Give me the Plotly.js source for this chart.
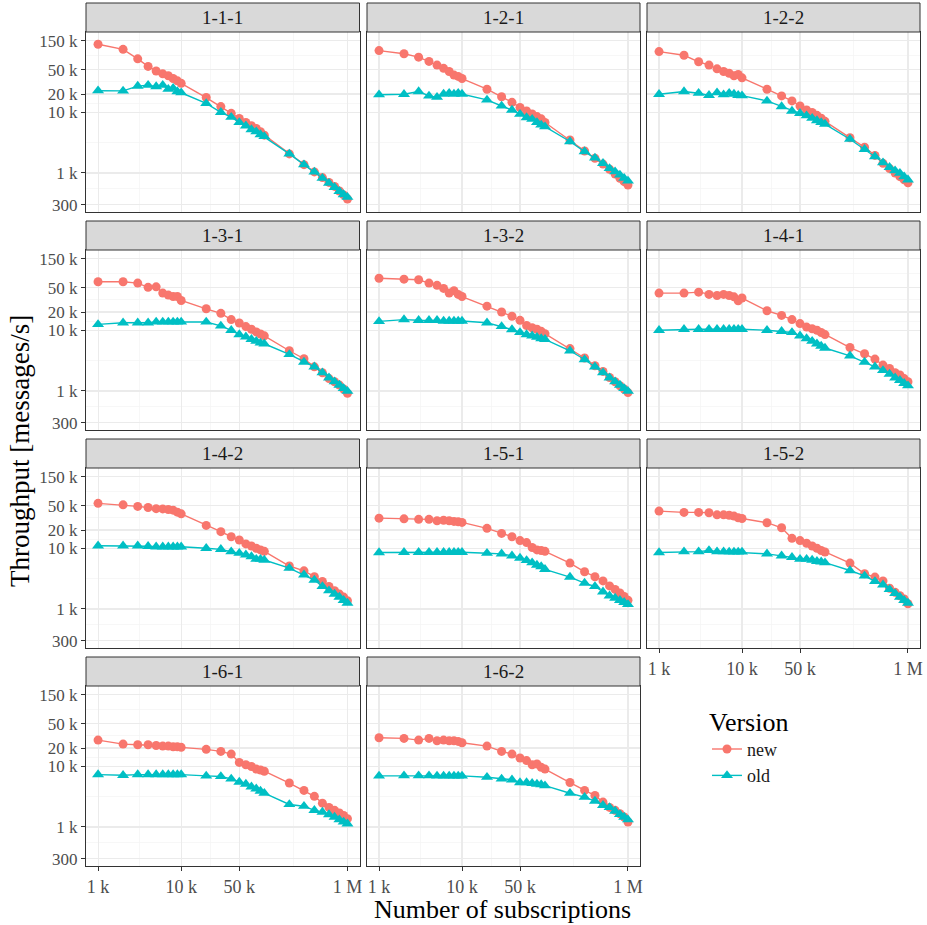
<!DOCTYPE html>
<html><head><meta charset="utf-8">
<script src="https://cdn.plot.ly/plotly-3.0.1.min.js"></script>
<style>html,body{margin:0;padding:0;background:#fff}#chart{width:927px;height:925px}</style>
</head><body><div id="chart"></div>
<script>
const subscriptions = [1000,2000,3000,4000,5000,6000,7000,8000,9000,10000,20000,30000,40000,50000,60000,70000,80000,90000,100000,200000,300000,400000,500000,600000,700000,800000,900000,1000000];
const panelNames = ['1-1-1','1-2-1','1-2-2','1-3-1','1-3-2','1-4-1','1-4-2','1-5-1','1-5-2','1-6-1','1-6-2'];
const seriesNames = ['new','old'];

const new111 = [132000,109000,76000,57000,48000,43000,40000,36000,33000,30000,17500,12400,9600,7900,6800,6000,5400,4800,4200,2060,1370,1040,840,700,600,505,435,372];
const old111 = [22700,22500,27000,28000,26500,28000,24000,25000,22000,21000,14000,10000,8300,6800,6000,5200,4800,4300,4000,2060,1370,1040,820,680,580,500,440,400];
const new121 = [104000,92000,81000,69000,60000,53000,47000,41000,39000,36000,24000,18000,14600,12000,10500,9400,8500,7800,6800,3500,2300,1750,1400,1150,960,820,720,635];
const old121 = [19500,19800,22000,18600,17700,20000,20600,20000,20600,20000,16000,12700,10900,9300,8200,7700,6800,6200,5800,3300,2250,1770,1440,1190,1050,930,820,740];
const new122 = [100000,87000,68000,60000,52000,47000,44000,40000,42000,37000,24000,18600,15400,12700,10900,9900,8900,8000,7100,3800,2650,1950,1440,1180,1000,870,770,690];
const old122 = [19800,22000,20600,19000,21000,19500,20600,20000,19000,18800,15400,12400,10500,9600,8800,8000,7300,6800,6400,3600,2450,1860,1480,1240,1090,990,870,770];
const new131 = [63000,63000,60000,51000,52000,41000,38000,36000,36000,31000,22600,19000,15000,13200,11500,10400,9400,8700,8100,4600,3400,2500,2000,1600,1420,1250,1080,915];
const old131 = [12500,13300,13300,13300,13700,13700,13700,13700,13700,13700,13700,11800,10000,8500,7800,7100,6600,6200,6000,4000,3000,2500,2000,1650,1420,1250,1100,990];
const new132 = [72000,69500,68000,60000,55000,49000,41000,45000,39000,36000,25000,20000,17000,14600,12000,11000,10400,9600,8800,5000,3500,2600,2100,1670,1420,1220,1080,940];
const old132 = [14000,15000,14600,14600,14600,14200,14200,14200,14200,14200,13300,11600,10300,9200,8500,8100,7700,7300,7100,4600,3300,2500,2000,1650,1420,1250,1100,990];
const new141 = [41000,41000,42500,39000,37500,39000,37500,35600,30600,34000,21000,17600,15000,12900,11300,10600,10000,9200,8500,5200,4100,3350,2670,2350,2000,1830,1600,1420];
const old141 = [10000,10400,10400,10400,10400,10400,10400,10400,10400,10400,10000,9600,9200,8100,7300,6600,6000,5500,5100,3800,3000,2500,2180,1900,1650,1500,1340,1220];
const new142 = [55000,52000,49000,47000,45000,44600,43600,42500,39400,37000,23800,18800,15500,13700,11800,10900,10000,9400,8900,5100,4250,3400,2840,2350,2000,1760,1570,1370];
const old142 = [11000,11000,11000,10800,10600,10600,10600,10600,10600,10600,10000,9600,8800,8300,7800,7300,6600,6600,6400,4700,3650,3000,2350,2000,1760,1570,1390,1250];
const new151 = [31400,30600,30000,30000,28400,29000,28400,27700,27300,26700,21300,17600,15500,13400,12400,10300,9400,9200,8900,5700,4100,3400,2900,2400,2100,1830,1610,1390];
const old151 = [8500,8600,8600,8600,8600,8600,8600,8600,8600,8600,8300,8100,7500,6900,6300,5800,5300,5000,4500,3350,2670,2350,1920,1650,1510,1390,1290,1190];
const new152 = [41000,39000,39000,38500,35600,35600,35000,33900,31800,31000,26400,21800,14600,13400,12100,10900,10000,9200,8700,5700,3800,3350,2900,2200,1880,1650,1460,1220];
const old152 = [8500,8800,8800,9200,8800,8800,8700,8700,8700,8700,8100,7500,7100,6600,6600,6400,6100,6000,5800,4300,3500,2840,2500,2100,1800,1570,1390,1250];
const new161 = [27000,23200,22600,22600,22000,21500,21500,21000,21000,20500,19000,17600,15900,11600,10600,9900,9000,8700,8300,5300,4000,3200,2470,2100,1880,1700,1550,1370];
const old161 = [7300,7100,7300,7300,7300,7300,7300,7300,7300,7300,6950,6800,6200,5500,5100,4600,4250,3900,3600,2350,2200,1880,1760,1600,1460,1320,1210,1130];
const new162 = [29500,28800,27000,28800,26400,27000,26400,26400,25700,24400,21500,17600,15900,13700,12400,10600,10900,9600,9000,5400,4000,3300,2570,2100,1880,1650,1460,1210];
const old162 = [6950,7000,7000,7000,6950,6950,6950,6950,6950,6950,6600,6200,6000,5400,5400,5250,5100,5000,4800,3600,3100,2670,2270,2100,1830,1610,1460,1320];

const panelNew = [new111,new121,new122,new131,new132,new141,new142,new151,new152,new161,new162];
const panelOld = [old111,old121,old122,old131,old132,old141,old142,old151,old152,old161,old162];

const xTickVals = [1000,10000,50000,1000000];
const xTickText = ['1 k','10 k','50 k','1 M'];
const xMinorVals = [3162,22361,223607];
const yTickVals = [300,1000,10000,20000,50000,150000];
const yTickText = ['300','1 k','10 k','20 k','50 k','150 k'];
const yMinorVals = [548,3162,14142,31623,86603];

const colors = {new:'#F8766D', old:'#00BFC4'};
const symbols = {new:'circle', old:'triangle-up'};
const markerSize = {new:9, old:10.5};

const W=927, H=925;
const FONT = 'Liberation Serif, DejaVu Serif, serif';
const colPx = [[86,359.5],[367,640],[647,920]];
const rowPx = [[32,212],[250,430],[468,648],[686,866]];
const stripH = 29;
const bottomPanels = [8,9,10];

const data = [];
const layout = {
  width: W, height: H,
  margin: {l:0,r:0,t:0,b:0},
  paper_bgcolor:'#ffffff', plot_bgcolor:'#ffffff',
  font: {family: FONT, color:'#1A1A1A'},
  showlegend: true,
  legend: {
    x: 707/W, y: 1-697/H, xanchor:'left', yanchor:'top',
    title: {text:'Version', font:{size:26, family:FONT, color:'#000'}},
    font: {size:18, family:FONT, color:'#1A1A1A'},
    bgcolor:'rgba(0,0,0,0)', itemwidth:30, tracegroupgap:0
  },
  shapes: [], annotations: []
};

panelNames.forEach((name, i) => {
  const col = i % 3, row = Math.floor(i / 3);
  const n = i + 1;
  const xa = 'xaxis' + (n === 1 ? '' : n), ya = 'yaxis' + (n === 1 ? '' : n);
  const xr = 'x' + (n === 1 ? '' : n), yr = 'y' + (n === 1 ? '' : n);
  const [l, r] = colPx[col];
  const [t, b] = rowPx[row];
  const isBottom = bottomPanels.includes(i);
  const isLeft = col === 0;

  layout[xa] = {
    type:'log', range:[2.855, 6.145], domain:[l/W, r/W], anchor: yr,
    showline:true, mirror:true, linecolor:'#333333', linewidth:1,
    showgrid:true, gridcolor:'#EBEBEB', gridwidth:1.1, zeroline:false,
    tickmode:'array', tickvals:xTickVals, ticktext:xTickText,
    ticks: isBottom ? 'outside' : '', ticklen:4, tickcolor:'#333333', tickwidth:1,
    showticklabels: isBottom,
    tickfont:{family:FONT, size:18, color:'#4D4D4D'},
    minor:{tickmode:'array', tickvals:xMinorVals, showgrid:true, gridcolor:'#F3F3F3', gridwidth:0.7, ticks:''},
    fixedrange:true
  };
  layout[ya] = {
    type:'log', range:[2.357, 5.323], domain:[1-b/H, 1-t/H], anchor: xr,
    showline:true, mirror:true, linecolor:'#333333', linewidth:1,
    showgrid:true, gridcolor:'#EBEBEB', gridwidth:1.1, zeroline:false,
    tickmode:'array', tickvals:yTickVals, ticktext:yTickText,
    ticks: isLeft ? 'outside' : '', ticklen:4, tickcolor:'#333333', tickwidth:1,
    showticklabels: isLeft,
    tickfont:{family:FONT, size:17, color:'#4D4D4D'},
    minor:{tickmode:'array', tickvals:yMinorVals, showgrid:true, gridcolor:'#F3F3F3', gridwidth:0.7, ticks:''},
    fixedrange:true
  };

  [['new', panelNew[i]], ['old', panelOld[i]]].forEach(([s, ys]) => {
    data.push({
      type:'scatter', mode:'lines+markers',
      x: subscriptions, y: ys, xaxis: xr, yaxis: yr,
      name: s, legendgroup: s, showlegend: i === 0,
      line:{color:colors[s], width:1.4},
      marker:{symbol:symbols[s], color:colors[s], size:markerSize[s], line:{width:0}},
      hoverinfo:'skip'
    });
  });

  layout.shapes.push({
    type:'rect', xref:'paper', yref:'paper',
    x0:l/W, x1:r/W, y0:1-t/H, y1:1-(t-stripH)/H,
    fillcolor:'#D9D9D9', line:{color:'#333333', width:1}, layer:'above'
  });
  layout.annotations.push({
    xref:'paper', yref:'paper', x:(l+r)/2/W, y:1-(t-stripH/2)/H,
    text:name, showarrow:false, xanchor:'center', yanchor:'middle',
    font:{family:FONT, size:19, color:'#1A1A1A'}
  });
});

layout.annotations.push({
  xref:'paper', yref:'paper', x:20/W, y:1-451/H, text:'Throughput [messages/s]',
  textangle:-90, showarrow:false, xanchor:'center', yanchor:'middle',
  font:{family:FONT, size:27, color:'#000'}
});
layout.annotations.push({
  xref:'paper', yref:'paper', x:502/W, y:1-909/H, text:'Number of subscriptions',
  showarrow:false, xanchor:'center', yanchor:'middle',
  font:{family:FONT, size:26, color:'#000'}
});

Plotly.newPlot('chart', data, layout, {displayModeBar:false, staticPlot:true});
</script>
</body></html>
